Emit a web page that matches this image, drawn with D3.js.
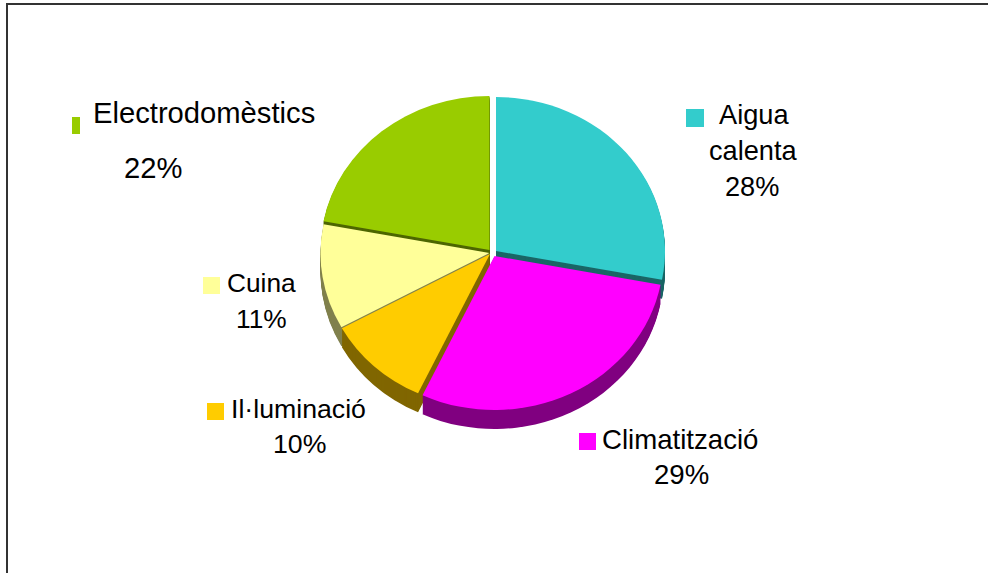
<!DOCTYPE html>
<html>
<head>
<meta charset="utf-8">
<script src="https://cdn.jsdelivr.net/npm/d3@7"></script>
<style>
  html, body { margin: 0; padding: 0; background: #fff; overflow: hidden; }
  text { font-family: "Liberation Sans", Arial, sans-serif; fill: #000; }
</style>
</head>
<body>
<div id="chart"></div>
<script>
var categories = ["Aigua calenta", "Climatització", "Il·luminació", "Cuina", "Electrodomèstics"];
var values = [28, 29, 10, 11, 22];
var colors = ["#33cccc", "#ff00ff", "#ffcc00", "#ffff99", "#99cc00"];

var width = 988, height = 573;
var rx = 169, ry = 154, depth = 19;

// where each slice's tip sits: the slices are pulled apart a little
var sliceCentres = [[496, 251], [494.5, 256], [490, 254], [489.5, 253], [489.5, 250]];

// name lines, percent line and key square for each category, same order as above
var labels = [
  {size: 27.2, lines: [[719, 124, "Aigua"], [709, 160, "calenta"], [725, 196, "28%"]], key: [686, 109, 18, 18]},
  {size: 27.6, lines: [[602, 449, "Climatització"], [654, 484, "29%"]], key: [579, 433, 17, 17]},
  {size: 26.7, lines: [[231, 418, "Il·luminació"], [273, 453, "10%"]], key: [207, 403, 17, 17]},
  {size: 26.3, lines: [[227, 292, "Cuina"], [236, 328, "11%"]], key: [203, 277, 17, 17]},
  {size: 29.2, lines: [[93, 123, "Electrodomèstics"], [124, 178, "22%"]], key: [72, 117, 8, 17]}
];

// back slices first so the front ones cover their side walls
var drawOrder = [4, 0, 3, 2, 1];

var svg = d3.select("#chart").append("svg")
  .attr("width", width)
  .attr("height", height);

// frame
svg.append("path")
  .attr("d", "M7," + height + "V4H" + width)
  .attr("fill", "none")
  .attr("stroke", "#333333")
  .attr("stroke-width", 2);

var pie = d3.pie().sort(null)(values);
var arc = d3.arc().innerRadius(0).outerRadius(rx);

drawOrder.forEach(function(i) {
  var c = sliceCentres[i];
  var base = d3.rgb(colors[i]);
  var dark = d3.rgb(base.r / 2, base.g / 2, base.b / 2);

  // side wall: the slice swept downward
  d3.range(depth, 0, -1).forEach(function(d) {
    svg.append("path")
      .attr("d", arc(pie[i]))
      .attr("transform", "translate(" + c[0] + "," + (c[1] + d) + ") scale(1," + (ry / rx) + ")")
      .attr("fill", dark);
  });

  svg.append("path")
    .attr("d", arc(pie[i]))
    .attr("transform", "translate(" + c[0] + "," + c[1] + ") scale(1," + (ry / rx) + ")")
    .attr("fill", colors[i]);
});

labels.forEach(function(l, i) {
  svg.append("rect")
    .attr("x", l.key[0]).attr("y", l.key[1])
    .attr("width", l.key[2]).attr("height", l.key[3])
    .attr("fill", colors[i]);
  l.lines.forEach(function(t) {
    svg.append("text")
      .attr("x", t[0]).attr("y", t[1])
      .attr("font-size", l.size)
      .text(t[2]);
  });
});
</script>
</body>
</html>
